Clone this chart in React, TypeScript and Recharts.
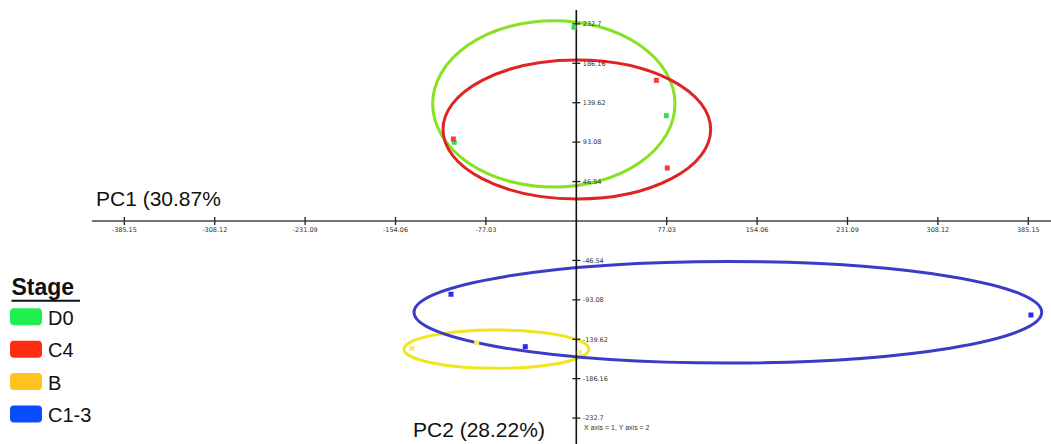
import React from 'react';
import { ScatterChart, Scatter, XAxis, YAxis, ReferenceLine, ReferenceDot, ReferenceArea } from 'recharts';

// Groups (stages)
const stages = ['D0', 'C4', 'B', 'C1-3'];
const legendColors = ['#21ee4f', '#ff2b12', '#ffc21e', '#0a4dff'];
const ellipseColors = ['#86e222', '#e02424', '#f3e51c', '#3b3bc6'];
const pointColors = ['#33dd55', '#f03c3c', '#f4ec80', '#2b2bf0'];

// PC scores per stage
const d0PC1 = [-2.0, 76.7, -104.0];
const d0PC2 = [228.7, 124.3, 92.9];
const c4PC1 = [68.2, 77.5, -104.8];
const c4PC2 = [166.1, 62.6, 96.8];
const bPC1 = [-140.1, -84.9, 2.6];
const bPC2 = [-150.3, -143.7, -155.0];
const c13PC1 = [-106.8, -43.5, 387.4];
const c13PC2 = [-86.5, -148.4, -111.0];

// Confidence ellipse bounds (PC1 min/max, PC2 min/max) per stage
const ellipsePC1Min = [-122.4, -113.6, -146.8, -138.3];
const ellipsePC1Max = [84.1, 114.5, 10.8, 396.6];
const ellipsePC2Min = [40.1, 26.0, -173.9, -167.7];
const ellipsePC2Max = [236.5, 190.1, -128.7, -47.9];

// Axis ticks
const xTicks = [-385.15, -308.12, -231.09, -154.06, -77.03, 77.03, 154.06, 231.09, 308.12, 385.15];
const yTicks = [232.7, 186.16, 139.62, 93.08, 46.54, -46.54, -93.08, -139.62, -186.16, -232.7];

const xLabel = 'PC1 (30.87%';
const yLabel = 'PC2 (28.22%)';
const axisNote = 'X axis = 1, Y axis = 2';

const pcs1 = [d0PC1, c4PC1, bPC1, c13PC1];
const pcs2 = [d0PC2, c4PC2, bPC2, c13PC2];
const seriesData = stages.map((_, i) => pcs1[i].map((x, j) => ({ x, y: pcs2[i][j] })));

const tickFont = 'DejaVu Sans, sans-serif';
const sans = 'Liberation Sans, Arial, sans-serif';

export default function App() {
  return (
    <div style={{ position: 'absolute', left: 0, top: 0, width: 1051, height: 444, background: '#fff' }}>
      <ScatterChart width={1051} height={444} margin={{ top: 10, right: 0, bottom: 0, left: 92 }}>
        <XAxis type="number" dataKey="x" domain={[-412.7, 404.5]} allowDataOverflow hide />
        <YAxis type="number" dataKey="y" domain={[-263.3, 249.1]} allowDataOverflow hide />
        <ReferenceLine y={0} stroke="#444" strokeWidth={1.3} />
        <ReferenceLine x={0} stroke="#111" strokeWidth={1.6} />
        {xTicks.map((t) => (
          <ReferenceDot
            key={'xt' + t}
            x={t}
            y={0}
            r={0}
            shape={(p: any) => (
              <g>
                <line x1={p.cx} x2={p.cx} y1={p.cy - 4} y2={p.cy + 4} stroke="#222" strokeWidth={1.3} />
                <text x={p.cx} y={p.cy + 11} textAnchor="middle" fontSize={6.5} fontFamily={tickFont} fill="#333">
                  {String(t)}
                </text>
              </g>
            )}
          />
        ))}
        {yTicks.map((t) => (
          <ReferenceDot
            key={'yt' + t}
            x={0}
            y={t}
            r={0}
            shape={(p: any) => (
              <g>
                <line x1={p.cx - 4} x2={p.cx + 4} y1={p.cy} y2={p.cy} stroke="#222" strokeWidth={1.3} />
                <text x={p.cx + 6.5} y={p.cy + 2.3} textAnchor="start" fontSize={6.5} fontFamily={tickFont} fill="#333">
                  {String(t)}
                </text>
              </g>
            )}
          />
        ))}
        {stages.map((s, i) => (
          <ReferenceArea
            key={'el' + s}
            x1={ellipsePC1Min[i]}
            x2={ellipsePC1Max[i]}
            y1={ellipsePC2Min[i]}
            y2={ellipsePC2Max[i]}
            shape={(p: any) => (
              <ellipse
                cx={p.x + p.width / 2}
                cy={p.y + p.height / 2}
                rx={Math.abs(p.width) / 2}
                ry={Math.abs(p.height) / 2}
                fill="none"
                stroke={ellipseColors[i]}
                strokeWidth={3}
              />
            )}
          />
        ))}
        {stages.map((s, i) => (
          <Scatter
            key={s}
            name={s}
            data={seriesData[i]}
            isAnimationActive={false}
            shape={(p: any) => <rect x={p.cx - 2.5} y={p.cy - 2.5} width={5} height={5} fill={pointColors[i]} />}
          />
        ))}
      </ScatterChart>
      <svg width={1051} height={444} style={{ position: 'absolute', left: 0, top: 0, pointerEvents: 'none' }}>
        <text x={96} y={205.5} fontSize={21} fontFamily={sans} fill="#111">{xLabel}</text>
        <text x={413} y={437.3} fontSize={21} fontFamily={sans} fill="#111">{yLabel}</text>
        <text x={584} y={429.5} fontSize={7} fontFamily={sans} fill="#333">{axisNote}</text>
        <text x={11.5} y={295} fontSize={23} fontWeight="bold" fontFamily={sans} fill="#111">Stage</text>
        <line x1={11.5} x2={80} y1={300.8} y2={300.8} stroke="#111" strokeWidth={2} />
        {stages.map((s, i) => (
          <g key={'lg' + s}>
            <rect x={10} y={308.3 + i * 32.4} width={32} height={17} rx={4} fill={legendColors[i]} />
            <text x={48} y={325 + i * 32.4} fontSize={20} fontFamily={sans} fill="#111">{s}</text>
          </g>
        ))}
      </svg>
    </div>
  );
}
